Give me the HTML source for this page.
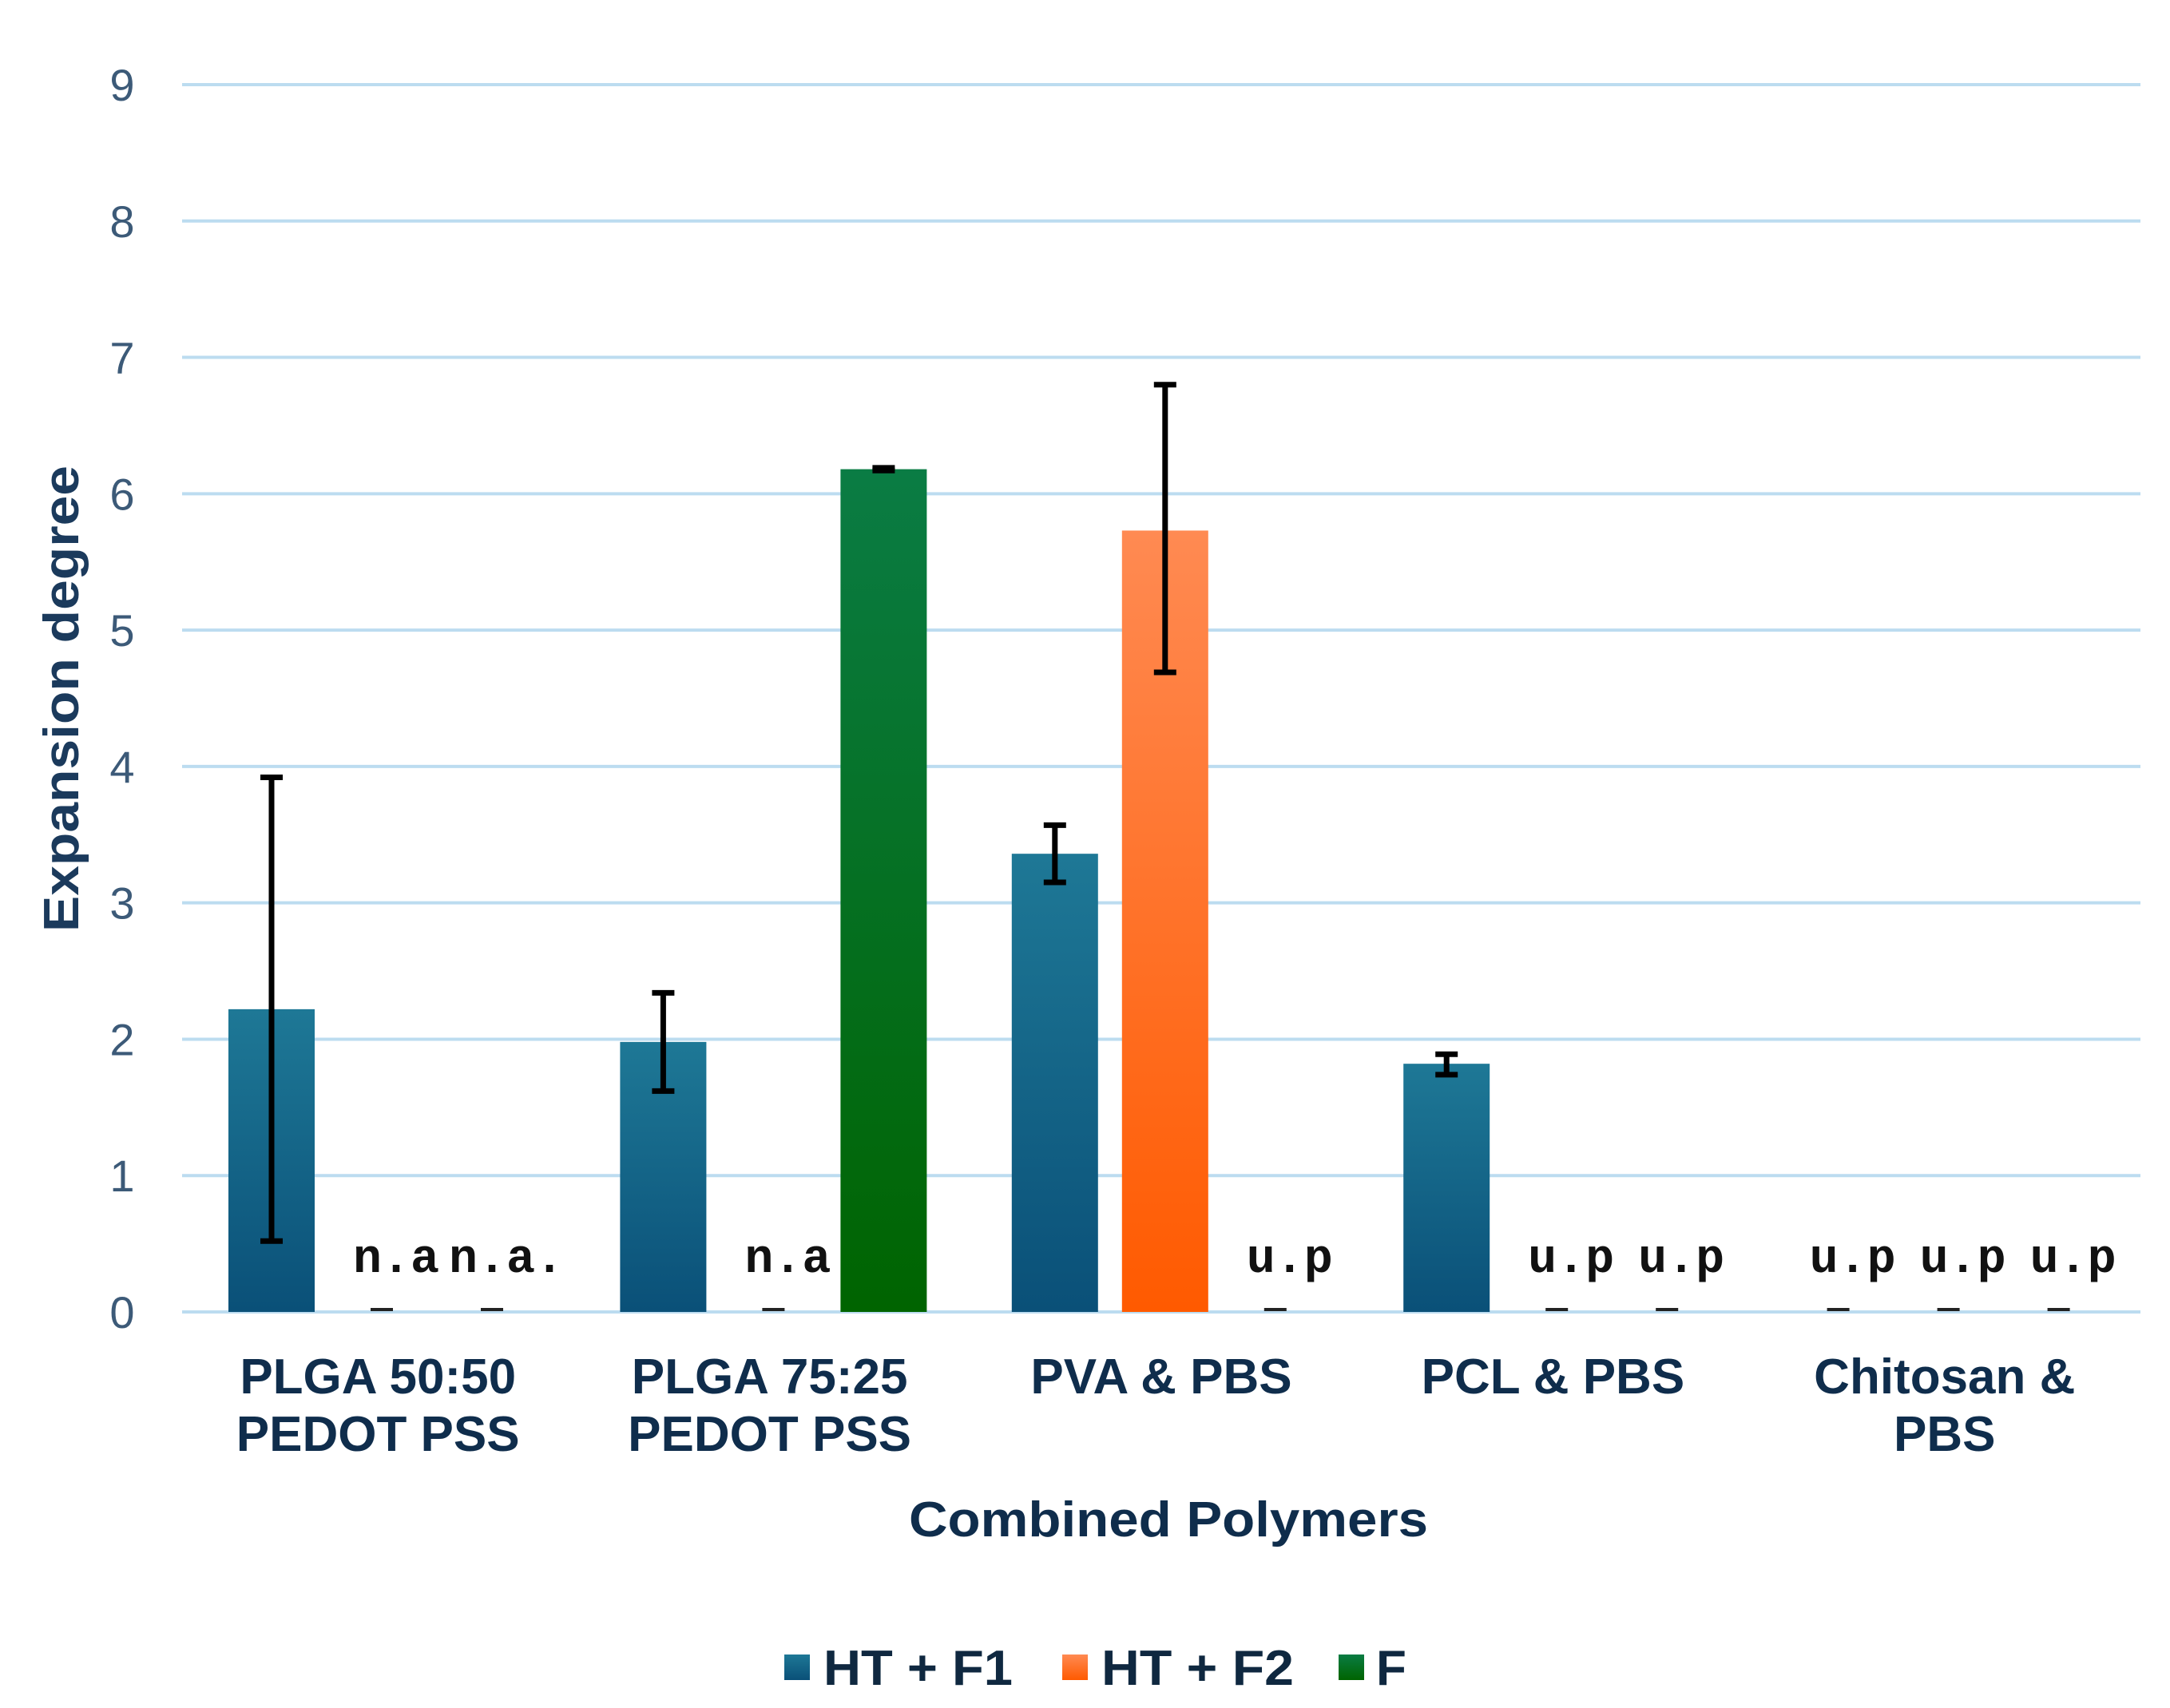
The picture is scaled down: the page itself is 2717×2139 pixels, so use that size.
<!DOCTYPE html>
<html><head><meta charset="utf-8">
<style>
html,body{margin:0;padding:0;background:#fff;}
svg{display:block;font-family:"Liberation Sans",sans-serif;}
</style></head>
<body>
<svg id="chart" width="2717" height="2139" viewBox="0 0 2717 2139" xmlns="http://www.w3.org/2000/svg">
<defs>
<linearGradient id="gBlue" x1="0" y1="0" x2="0" y2="1"><stop offset="0" stop-color="#1e7896"/><stop offset="1" stop-color="#0a5078"/></linearGradient>
<linearGradient id="gOrange" x1="0" y1="0" x2="0" y2="1"><stop offset="0" stop-color="#ff8a52"/><stop offset="1" stop-color="#ff5a00"/></linearGradient>
<linearGradient id="gGreen" x1="0" y1="0" x2="0" y2="1"><stop offset="0" stop-color="#0a7c44"/><stop offset="1" stop-color="#006400"/></linearGradient>
</defs>
<g id="grid"></g>
<g id="yticks"></g>
<g id="bars"></g>
<g id="errs"></g>
<g id="notes"></g>
<g id="xlabels"></g>
<text transform="translate(98,875) rotate(-90)" text-anchor="middle" font-size="62" font-weight="bold" fill="#1b3a5c" textLength="584" lengthAdjust="spacingAndGlyphs">Expansion degree</text>
<text x="1463" y="1924" text-anchor="middle" font-size="62" font-weight="bold" fill="#0f2d4c" textLength="650" lengthAdjust="spacingAndGlyphs">Combined Polymers</text>
<g font-size="62" font-weight="bold" fill="#0f2840">
  <g><rect x="982" y="2072" width="32" height="32" fill="url(#gBlue)"/><text x="1031" y="2110" textLength="237" lengthAdjust="spacingAndGlyphs">HT + F1</text></g>
  <g><rect x="1330" y="2072" width="32" height="32" fill="url(#gOrange)"/><text x="1379" y="2110" textLength="241" lengthAdjust="spacingAndGlyphs">HT + F2</text></g>
  <g><rect x="1676" y="2072" width="32" height="32" fill="url(#gGreen)"/><text x="1723" y="2110">F</text></g>
</g>
</svg>
<script>
const categories = [["PLGA 50:50","PEDOT PSS"],["PLGA 75:25","PEDOT PSS"],["PVA & PBS"],["PCL & PBS"],["Chitosan &","PBS"]];
const seriesNames = ["HT + F1","HT + F2","F"];
const htF1 = [2.22, 1.98, 3.36, 1.82, 0];
const htF2 = [0, 0, 5.73, 0, 0];
const fOnly = [0, 6.18, 0, 0, 0];
const htF1Lo = [0.52, 1.62, 3.15, 1.74, 0];
const htF1Hi = [3.92, 2.34, 3.57, 1.89, 0];
const htF2Lo = [0, 0, 4.69, 0, 0];
const htF2Hi = [0, 0, 6.8, 0, 0];
const fLo = [0, 6.17, 0, 0, 0];
const fHi = [0, 6.19, 0, 0, 0];
const notesF1 = ["", "", "", "", "u.p"];
const notesF2 = ["n.a", "n.a", "", "u.p", "u.p"];
const notesF = ["n.a.", "", "u.p", "u.p", "u.p"];
const yTicks = [0,1,2,3,4,5,6,7,8,9];

const NS = "http://www.w3.org/2000/svg";
const X0 = 228, X1 = 2680, Y0 = 1643, Y9 = 106, YMAX = 9;
const groupW = (X1 - X0) / categories.length;
function yScale(v){ return Y0 - (Y0 - Y9) * v / YMAX; }
function slotX(g, s){ return X0 + g * groupW + 58 + s * 138; }
const BW = 108;
function mk(tag, attrs, parent){ const e = document.createElementNS(NS, tag); for (const k in attrs) e.setAttribute(k, attrs[k]); parent.appendChild(e); return e; }

const grid = document.getElementById('grid');
const yt = document.getElementById('yticks');
yTicks.forEach(t => {
  const l = mk('line', {x1:X0, x2:X1, y1:yScale(t), y2:yScale(t), stroke:'#bcdcf0', 'stroke-width':4}, grid);
  
  
  const tx = mk('text', {x:153, y:yScale(t)+20, 'text-anchor':'middle', 'font-size':56, fill:'#3c5a78'}, yt);
  tx.textContent = t;
  
  
});

const series = [
  {vals:htF1, lo:htF1Lo, hi:htF1Hi, fill:'url(#gBlue)', notes:notesF1, key:'ht-f1'},
  {vals:htF2, lo:htF2Lo, hi:htF2Hi, fill:'url(#gOrange)', notes:notesF2, key:'ht-f2'},
  {vals:fOnly, lo:fLo, hi:fHi, fill:'url(#gGreen)', notes:notesF, key:'f'}
];
const bars = document.getElementById('bars'), errs = document.getElementById('errs'), notes = document.getElementById('notes');
series.forEach((s, si) => {
  s.vals.forEach((v, g) => {
    const x = slotX(g, si), cx = x + BW/2;
    if (v > 0) {
      const r = mk('rect', {x:x, y:yScale(v), width:BW, height:Y0 - yScale(v), fill:s.fill}, bars);
      
      
      const eg = mk('g', {stroke:'#000', 'stroke-width':7}, errs);
      
      
      mk('line', {x1:cx, x2:cx, y1:yScale(s.hi[g]), y2:yScale(s.lo[g])}, eg);
      mk('line', {x1:cx-14, x2:cx+14, y1:yScale(s.hi[g]), y2:yScale(s.hi[g])}, eg);
      mk('line', {x1:cx-14, x2:cx+14, y1:yScale(s.lo[g]), y2:yScale(s.lo[g])}, eg);
    } else if (s.notes[g]) {
      const d = mk('line', {x1:cx-14, x2:cx+14, y1:Y0-3, y2:Y0-3, stroke:'#222', 'stroke-width':4}, notes);
      
      
      const t = mk('text', {x:cx + 18, y:Y0-50, 'text-anchor':'middle', 'font-size':60, 'font-weight':'bold', fill:'#111', 'font-family':'"Liberation Mono", monospace'}, notes);
      t.textContent = s.notes[g];
      
      
    }
  });
});

const xl = document.getElementById('xlabels');
categories.forEach((lines, g) => {
  const cx = X0 + (g + 0.5) * groupW;
  const t = mk('text', {x:cx, y:1745, 'text-anchor':'middle', 'font-size':62, 'font-weight':'bold', fill:'#0f2d4c'}, xl);
  
  
  lines.forEach((ln, i) => { const ts = mk('tspan', {x:cx, dy: i ? 72 : 0}, t); ts.textContent = ln; });
});
</script>
</body></html>
